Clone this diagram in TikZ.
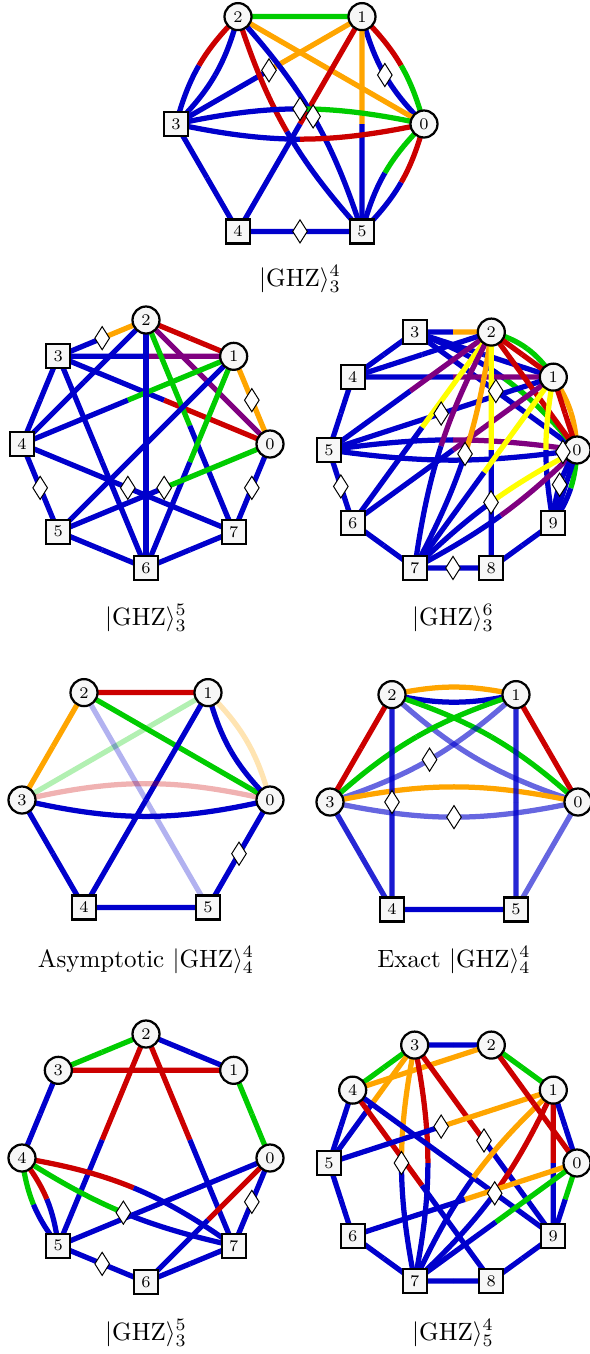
\documentclass[tikz,border=0pt]{standalone}
\usepackage{amsmath, amssymb}
\usepackage{tikz}
\usetikzlibrary{calc,shapes.geometric}
\usepackage{xcolor}

\definecolor{eblue}{RGB}{0,0,204}
\definecolor{ered}{RGB}{204,0,0}
\definecolor{egreen}{RGB}{0,204,0}
\definecolor{eorange}{RGB}{255,165,0}
\definecolor{epurple}{RGB}{128,0,128}
\definecolor{eyellow}{RGB}{255,255,0}

\pgfdeclarelayer{edges}
\pgfsetlayers{edges,main}

\tikzset{
   qubit/.style={circle, draw, line width=0.9pt, fill=white!97!black, minimum size=10.8pt, inner sep=0pt, font=\fontsize{6.5}{7}\selectfont},
   site/.style={rectangle, draw, line width=0.9pt, fill=white!97!black, minimum size=9.6pt, inner sep=0pt, font=\fontsize{6.5}{7}\selectfont},
   dia/.style={diamond, draw, line width=0.4pt, fill=white, minimum width=6pt, minimum height=9.4pt, inner sep=0pt},
   bond/.style={line width=2.1pt},
   faint/.style={opacity=.3},
   half/.style={opacity=.6}
}

% bend, from, to, colour at from, colour at to, diamond position
\newcommand{\link}[6]{%
   \pgfmathsetmacro{\bendback}{-(#1)}%
   \coordinate (c1) at ($(q_#2.center)!0.3915!#1:(q_#3.center)$);
   \coordinate (c2) at ($(q_#3.center)!0.3915!\bendback:(q_#2.center)$);
   \coordinate (m01) at ($(q_#2.center)!.5!(c1)$);
   \coordinate (m12) at ($(c1)!.5!(c2)$);
   \coordinate (m23) at ($(c2)!.5!(q_#3.center)$);
   \coordinate (m012) at ($(m01)!.5!(m12)$);
   \coordinate (m123) at ($(m12)!.5!(m23)$);
   \coordinate (mid) at ($(m012)!.5!(m123)$);
   \begin{pgfonlayer}{edges}
      \draw[bond,#4] (q_#2.center) .. controls (m01) and (m012) .. (mid);
      \draw[bond,#5] (mid) .. controls (m123) and (m23) .. (q_#3.center);
   \end{pgfonlayer}
   \ifx\relax#6\relax\else
      \path (q_#2.center) .. controls (c1) and (c2) .. (q_#3.center) node[dia,pos=#6] {};
   \fi}

\begin{document}
\begin{tikzpicture}[x=0.4pt,y=0.4pt]
   \useasboundingbox (0,0) rectangle (589,-1354);

   \begin{scope}[shift={(300,-124)}, name prefix=A-]
      \foreach \i in {0,1,2} \node[qubit] (q_\i) at (\i*60:124) {\i};
      \foreach \i in {3,4,5} \node[site] (q_\i) at (\i*60:124) {\i};
      \link{0}{2}{1}{egreen}{egreen}{}
      \link{-15}{2}{3}{ered}{eblue}{}
      \link{15}{2}{3}{eblue}{eblue}{}
      \link{15}{1}{0}{ered}{egreen}{}
      \link{-15}{1}{0}{eblue}{eblue}{.5}
      \link{15}{0}{5}{ered}{eblue}{}
      \link{-15}{0}{5}{egreen}{eblue}{}
      \link{0}{2}{0}{eorange}{eorange}{}
      \link{0}{1}{3}{eorange}{eblue}{.5}
      \link{0}{1}{5}{eorange}{eblue}{}
      \link{0}{1}{4}{ered}{eblue}{}
      \link{12}{2}{5}{eblue}{eblue}{.5}
      \link{-12}{2}{5}{ered}{eblue}{}
      \link{12}{3}{0}{eblue}{egreen}{.5}
      \link{-12}{3}{0}{eblue}{ered}{}
      \link{0}{3}{4}{eblue}{eblue}{}
      \link{0}{4}{5}{eblue}{eblue}{.5}
      \node (cap) at (0,-155) {$|\mathrm{GHZ}\rangle_3^4$};
   \end{scope}

   \begin{scope}[shift={(146,-444)}, name prefix=B-]
      \foreach \i in {0,1,2} \node[qubit] (q_\i) at (\i*45:124) {\i};
      \foreach \i in {3,...,7} \node[site] (q_\i) at (\i*45:124) {\i};
      \link{0}{2}{3}{eorange}{eblue}{.5}
      \link{0}{2}{1}{ered}{ered}{}
      \link{0}{2}{0}{epurple}{epurple}{}
      \link{0}{3}{1}{eblue}{epurple}{}
      \link{0}{1}{0}{eorange}{eorange}{.5}
      \link{0}{3}{0}{eblue}{ered}{}
      \link{0}{1}{4}{egreen}{eblue}{}
      \link{0}{2}{7}{egreen}{eblue}{}
      \link{0}{1}{6}{egreen}{eblue}{}
      \link{0}{2}{6}{eblue}{eblue}{}
      \link{0}{2}{4}{eblue}{eblue}{}
      \link{0}{3}{6}{eblue}{eblue}{}
      \link{0}{1}{5}{eblue}{eblue}{}
      \link{0}{4}{7}{eblue}{eblue}{.5}
      \link{0}{0}{5}{egreen}{eblue}{.5}
      \link{0}{3}{4}{eblue}{eblue}{}
      \link{0}{4}{5}{eblue}{eblue}{.5}
      \link{0}{5}{6}{eblue}{eblue}{}
      \link{0}{6}{7}{eblue}{eblue}{}
      \link{0}{7}{0}{eblue}{eblue}{.5}
      \node (cap) at (0,-174) {$|\mathrm{GHZ}\rangle_3^5$};
   \end{scope}

   \begin{scope}[shift={(453,-450)}, name prefix=C-]
      \foreach \i in {0,1,2} \node[qubit] (q_\i) at (\i*36:124) {\i};
      \foreach \i in {3,...,9} \node[site] (q_\i) at (\i*36:124) {\i};
      \link{0}{3}{2}{eblue}{eorange}{}
      \link{0}{3}{4}{eblue}{eblue}{}
      \link{0}{4}{5}{eblue}{eblue}{}
      \link{0}{5}{6}{eblue}{eblue}{.5}
      \link{0}{6}{7}{eblue}{eblue}{}
      \link{0}{7}{8}{eblue}{eblue}{.5}
      \link{0}{8}{9}{eblue}{eblue}{}
      \link{0}{3}{1}{eblue}{eblue}{}
      \link{0}{3}{0}{eblue}{eblue}{.5}
      \link{15}{3}{0}{eblue}{egreen}{}
      \link{0}{4}{2}{eblue}{eblue}{}
      \link{0}{4}{1}{eblue}{epurple}{}
      \link{0}{2}{5}{epurple}{eblue}{}
      \link{0}{5}{1}{eblue}{eblue}{.5}
      \link{8}{5}{0}{eblue}{epurple}{}
      \link{-8}{5}{0}{eblue}{eblue}{.95}
      \link{20}{2}{1}{egreen}{egreen}{}
      \link{0}{2}{1}{ered}{ered}{}
      \link{15}{1}{0}{eorange}{eorange}{}
      \link{0}{1}{0}{ered}{ered}{}
      \link{0}{2}{0}{ered}{ered}{}
      \link{0}{2}{6}{eyellow}{eblue}{}
      \link{0}{1}{6}{epurple}{eblue}{}
      \link{-10}{2}{7}{epurple}{eblue}{}
      \link{10}{2}{7}{eorange}{eblue}{.5}
      \link{0}{2}{8}{eyellow}{eblue}{}
      \link{0}{1}{7}{eyellow}{eblue}{}
      \link{-10}{1}{9}{eyellow}{eblue}{}
      \link{-8}{0}{7}{eyellow}{eblue}{.5}
      \link{8}{0}{7}{epurple}{eblue}{}
      \link{15}{0}{9}{egreen}{eblue}{}
      \link{0}{0}{9}{eblue}{eblue}{}
      \link{-15}{0}{9}{eblue}{eblue}{.5}
      \node (cap) at (0,-168) {$|\mathrm{GHZ}\rangle_3^6$};
   \end{scope}

   \begin{scope}[shift={(146,-800)}, name prefix=D-]
      \foreach \i in {0,...,3} \node[qubit] (q_\i) at (\i*60:124) {\i};
      \foreach \i in {4,5} \node[site] (q_\i) at (\i*60:124) {\i};
      \link{0}{2}{1}{ered}{ered}{}
      \link{0}{2}{3}{eorange}{eorange}{}
      \link{0}{2}{0}{egreen}{egreen}{}
      \link{0}{3}{1}{faint,egreen}{faint,egreen}{}
      \link{0}{2}{5}{faint,eblue}{faint,eblue}{}
      \link{0}{1}{4}{eblue}{eblue}{}
      \link{15}{1}{0}{faint,eorange}{faint,eorange}{}
      \link{-15}{1}{0}{eblue}{eblue}{}
      \link{13}{3}{0}{faint,ered}{faint,ered}{}
      \link{-13}{3}{0}{eblue}{eblue}{}
      \link{0}{3}{4}{eblue}{eblue}{}
      \link{0}{4}{5}{eblue}{eblue}{}
      \link{0}{0}{5}{eblue}{eblue}{.5}
      \node (cap) at (0,-160) {Asymptotic $|\mathrm{GHZ}\rangle_4^4$};
   \end{scope}

   \begin{scope}[shift={(454,-802)}, name prefix=E-]
      \foreach \i in {0,...,3} \node[qubit] (q_\i) at (\i*60:124) {\i};
      \foreach \i in {4,5} \node[site] (q_\i) at (\i*60:124) {\i};
      \link{12}{2}{1}{eorange}{eorange}{}
      \link{-12}{2}{1}{eblue}{eblue}{}
      \link{0}{2}{3}{ered}{ered}{}
      \link{0}{1}{0}{ered}{ered}{}
      \link{12}{2}{0}{egreen}{egreen}{}
      \link{-12}{2}{0}{half,eblue}{half,eblue}{}
      \link{12}{3}{1}{egreen}{egreen}{}
      \link{-12}{3}{1}{half,eblue}{half,eblue}{.5}
      \link{12}{3}{0}{eorange}{eorange}{}
      \link{-12}{3}{0}{half,eblue}{half,eblue}{.5}
      \link{0}{2}{4}{opacity=.9,eblue}{opacity=.9,eblue}{.5}
      \link{0}{1}{5}{opacity=.85,eblue}{opacity=.85,eblue}{}
      \link{0}{3}{4}{opacity=.85,eblue}{opacity=.85,eblue}{}
      \link{0}{4}{5}{eblue}{eblue}{}
      \link{0}{0}{5}{half,eblue}{half,eblue}{}
      \node (cap) at (0,-158) {Exact $|\mathrm{GHZ}\rangle_4^4$};
   \end{scope}

   \begin{scope}[shift={(146,-1158)}, name prefix=F-]
      \foreach \i in {0,...,4} \node[qubit] (q_\i) at (\i*45:124) {\i};
      \foreach \i in {5,6,7} \node[site] (q_\i) at (\i*45:124) {\i};
      \link{0}{2}{3}{egreen}{egreen}{}
      \link{0}{2}{1}{eblue}{eblue}{}
      \link{0}{3}{1}{ered}{ered}{}
      \link{0}{1}{0}{egreen}{egreen}{}
      \link{0}{3}{4}{eblue}{eblue}{}
      \link{0}{2}{5}{ered}{eblue}{}
      \link{0}{2}{7}{ered}{eblue}{}
      \link{-15}{4}{5}{egreen}{eblue}{}
      \link{15}{4}{5}{ered}{eblue}{}
      \link{13}{4}{7}{ered}{eblue}{}
      \link{-10}{4}{7}{egreen}{eblue}{.5}
      \link{0}{0}{5}{eblue}{eblue}{}
      \link{0}{0}{6}{ered}{eblue}{}
      \link{0}{0}{7}{eblue}{eblue}{.5}
      \link{0}{5}{6}{eblue}{eblue}{.5}
      \link{0}{6}{7}{eblue}{eblue}{}
      \node (cap) at (0,-175) {$|\mathrm{GHZ}\rangle_3^5$};
   \end{scope}

   \begin{scope}[shift={(453,-1163)}, name prefix=G-]
      \foreach \i in {0,...,4} \node[qubit] (q_\i) at (\i*36:124) {\i};
      \foreach \i in {5,...,9} \node[site] (q_\i) at (\i*36:124) {\i};
      \link{0}{3}{2}{eblue}{eblue}{}
      \link{0}{2}{1}{egreen}{egreen}{}
      \link{0}{3}{4}{egreen}{egreen}{}
      \link{0}{4}{5}{eblue}{eblue}{}
      \link{0}{3}{5}{eorange}{eblue}{}
      \link{0}{4}{2}{eorange}{eorange}{}
      \link{-11}{3}{7}{eorange}{eblue}{.5}
      \link{11}{3}{7}{ered}{eblue}{}
      \link{0}{3}{9}{ered}{eblue}{.5}
      \link{0}{4}{8}{ered}{eblue}{}
      \link{0}{4}{9}{eblue}{eblue}{}
      \link{0}{1}{5}{eorange}{eblue}{.5}
      \link{-11}{1}{7}{eorange}{eblue}{}
      \link{11}{1}{7}{ered}{eblue}{.5}
      \link{0}{1}{9}{ered}{eblue}{}
      \link{0}{1}{0}{eblue}{eblue}{}
      \link{0}{2}{0}{ered}{ered}{}
      \link{0}{0}{9}{egreen}{eblue}{}
      \link{0}{0}{6}{eorange}{eblue}{}
      \link{0}{0}{7}{egreen}{eblue}{}
      \link{0}{5}{6}{eblue}{eblue}{}
      \link{0}{6}{7}{eblue}{eblue}{}
      \link{0}{7}{8}{eblue}{eblue}{}
      \link{0}{8}{9}{eblue}{eblue}{}
      \node (cap) at (0,-170) {$|\mathrm{GHZ}\rangle_5^4$};
   \end{scope}
\end{tikzpicture}
\end{document}
